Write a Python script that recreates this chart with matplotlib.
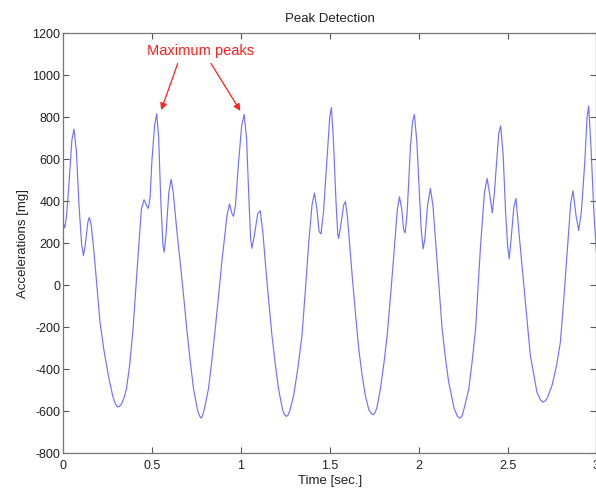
import matplotlib.pyplot as plt

# values
time_s = [0.000, 0.010, 0.020, 0.035, 0.050, 0.062, 0.075, 0.090, 0.105, 0.115,
          0.125, 0.140, 0.148, 0.158, 0.175, 0.190, 0.208, 0.230, 0.255, 0.280,
          0.294, 0.306, 0.318, 0.330, 0.343, 0.357, 0.375, 0.394, 0.417, 0.441,
          0.456, 0.470, 0.480, 0.490, 0.500, 0.515, 0.527, 0.538, 0.550, 0.562,
          0.569, 0.580, 0.595, 0.608, 0.620, 0.640, 0.659, 0.678, 0.696, 0.715,
          0.734, 0.755, 0.766, 0.775, 0.785, 0.795, 0.818, 0.837, 0.856, 0.875,
          0.893, 0.922, 0.936, 0.950, 0.959, 0.970, 0.987, 1.005, 1.019, 1.032,
          1.045, 1.055, 1.062, 1.075, 1.095, 1.109, 1.125, 1.147, 1.175, 1.194,
          1.212, 1.235, 1.246, 1.256, 1.266, 1.275, 1.297, 1.320, 1.344, 1.365,
          1.382, 1.400, 1.414, 1.428, 1.440, 1.451, 1.465, 1.489, 1.500, 1.509,
          1.520, 1.535, 1.545, 1.550, 1.565, 1.578, 1.588, 1.600, 1.626, 1.645,
          1.663, 1.682, 1.700, 1.720, 1.733, 1.744, 1.755, 1.765, 1.785, 1.805,
          1.823, 1.842, 1.860, 1.880, 1.892, 1.905, 1.915, 1.924, 1.935, 1.954,
          1.966, 1.976, 1.990, 2.005, 2.014, 2.025, 2.035, 2.050, 2.066, 2.080,
          2.104, 2.132, 2.150, 2.169, 2.200, 2.218, 2.231, 2.243, 2.255, 2.282,
          2.300, 2.320, 2.348, 2.370, 2.385, 2.400, 2.414, 2.425, 2.438, 2.450,
          2.461, 2.475, 2.489, 2.500, 2.509, 2.520, 2.535, 2.547, 2.565, 2.590,
          2.610, 2.628, 2.665, 2.685, 2.699, 2.712, 2.725, 2.750, 2.775, 2.797,
          2.815, 2.834, 2.855, 2.868, 2.885, 2.900, 2.915, 2.934, 2.947, 2.956,
          2.970, 2.985, 3.000]
accel_mg = [300, 272, 330, 500, 690, 742, 640, 380, 190, 140,
            190, 300, 322, 290, 150, 0, -177, -310, -431, -530,
            -565, -581, -578, -565, -538, -494, -380, -209, 77, 362,
            406, 378, 365, 420, 592, 760, 815, 700, 400, 190,
            156, 250, 440, 504, 440, 260, 108, -50, -209, -360,
            -494, -590, -620, -634, -622, -590, -494, -360, -209, -50,
            108, 330, 386, 340, 327, 380, 583, 760, 812, 700,
            420, 220, 175, 230, 340, 354, 240, 13, -240, -380,
            -494, -595, -618, -626, -618, -600, -526, -400, -240, 0,
            203, 380, 438, 360, 255, 243, 350, 663, 800, 845,
            700, 400, 240, 222, 300, 380, 397, 320, 45, -140,
            -304, -430, -526, -595, -612, -618, -608, -585, -494, -370,
            -240, -50, 140, 360, 420, 360, 265, 248, 340, 663,
            780, 812, 680, 420, 267, 172, 220, 380, 460, 380,
            108, -209, -345, -463, -590, -625, -634, -625, -590, -494,
            -370, -209, 187, 440, 507, 430, 343, 430, 583, 720,
            758, 620, 346, 190, 124, 220, 370, 412, 240, 13,
            -170, -336, -510, -548, -558, -552, -535, -478, -385, -272,
            -80, 140, 390, 449, 330, 259, 350, 583, 800, 853,
            640, 350, 150]

peak_times = [0.552, 0.997]
peak_values = [833, 829]
label_pos = (0.772, 1115)
x_ticks = [0, 0.5, 1, 1.5, 2, 2.5, 3]
x_tick_labels = ['0', '0.5', '1', '1.5', '2', '2.5', '3']
y_ticks = list(range(-800, 1201, 200))

plt.rcParams['font.family'] = ['Liberation Sans', 'DejaVu Sans']
plt.rcParams['axes.unicode_minus'] = False

fig = plt.figure(figsize=(5.96, 4.88), dpi=100)
ax = fig.add_axes([63 / 596, 35 / 488, 533.5 / 596, 420 / 488])

ax.plot(time_s, accel_mg, color='#7373f7', lw=0.85)

# arrows from the label to the two marked peaks
tails = [(0.645, 1055), (0.832, 1055)]
for (tx, ty), px, py in zip(tails, peak_times, peak_values):
    ax.annotate('', xy=(px, py), xytext=(tx, ty),
                arrowprops=dict(arrowstyle='-|>', color='#ff2020', lw=0.9,
                                mutation_scale=10, shrinkA=0, shrinkB=0))
ax.text(label_pos[0], label_pos[1], 'Maximum peaks', color='#ff2020',
        fontsize=10.5, ha='center', va='center')

ax.set_xlim(0, 3)
ax.set_ylim(-800, 1200)
ax.set_xticks(x_ticks)
ax.set_xticklabels(x_tick_labels)
ax.set_yticks(y_ticks)
ax.tick_params(direction='in', top=True, right=True, length=4, width=0.8,
               color='#555555', labelsize=9, labelcolor='#222222', pad=2)
ax.tick_params(axis='x', pad=5)
for sp in ax.spines.values():
    sp.set_color('#777777')
    sp.set_linewidth(0.9)

ax.set_title('Peak Detection', fontsize=9.5, color='#222222', pad=8)
ax.set_xlabel('Time [sec.]', fontsize=9.5, color='#222222', labelpad=2)
ax.set_ylabel('Accelerations [mg]', fontsize=9.5, color='#222222', labelpad=2)

plt.savefig('out.png', dpi=100)
plt.close()
